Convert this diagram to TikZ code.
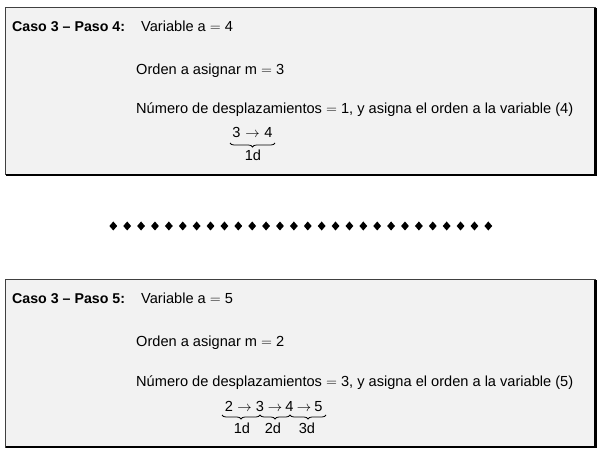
\documentclass[tikz,border=0pt]{standalone}
\usepackage{fontspec}
\setmainfont{Liberation Sans}
\usetikzlibrary{decorations.pathreplacing}
\begin{document}
\begin{tikzpicture}[x=1pt,y=-1pt,
  txt/.style={anchor=base west, inner sep=0pt, font=\fontsize{14.6}{17}\selectfont},
  ttl/.style={anchor=base west, inner sep=0pt, font=\fontsize{14.2}{17}\selectfont\bfseries},
  dig/.style={anchor=base, inner sep=0pt, font=\fontsize{14.6}{17}\selectfont},
  brc/.style={decorate, decoration={brace, amplitude=4pt, mirror}, line width=0.8pt},
  panel/.style={fill=black!5, draw=black!75, line width=1pt},
  shadowline/.style={line width=2.6pt, draw=black, line join=miter},
  gem/.style={fill=black}]
\useasboundingbox (0,0) rectangle (603,457);

% ---------- top panel ----------
\path[panel] (5.5,8) rectangle (595.5,175);
\draw[shadowline] (595.5,8) -- (595.5,175) -- (5.5,175);
\node[ttl] (t1) at (12,32) {Caso 3 – Paso 4:};
\node[txt] (v1) at (141,32) {Variable a $=$ 4};
\node[txt] (o1) at (136,75) {Orden a asignar m $=$ 3};
\node[txt] (n1) at (136,114) {Número de desplazamientos $=$ 1, y asigna el orden a la variable (4)};
\node[dig] (a3) at (236.5,138) {3};
\node[dig] (ar1) at (252.5,138) {$\rightarrow$};
\node[dig] (a4) at (268.5,138) {4};
\coordinate (q0) at (230,143);
\coordinate (q1) at (275,143);
\draw[brc] (q0) -- (q1);
\node[dig] (l1) at (253,161) {1d};

% ---------- separator ----------
\foreach \i in {0,...,27}
  \fill[gem] ({113.3+13.89*\i},221.5) -- ++(3.9,4.5) -- ++(-3.9,4.5) -- ++(-3.9,-4.5) -- cycle;

% ---------- bottom panel ----------
\path[panel] (5.5,280) rectangle (595.5,447);
\draw[shadowline] (595.5,280) -- (595.5,447) -- (5.5,447);
\node[ttl] (t2) at (12,304) {Caso 3 – Paso 5:};
\node[txt] (v2) at (141,304) {Variable a $=$ 5};
\node[txt] (o2) at (136,347) {Orden a asignar m $=$ 2};
\node[txt] (n2) at (136,386) {Número de desplazamientos $=$ 3, y asigna el orden a la variable (5)};
\node[dig] (b2) at (229,411) {2};
\node[dig] (r1) at (244.5,411) {$\rightarrow$};
\node[dig] (b3) at (260,411) {3};
\node[dig] (r2) at (275,411) {$\rightarrow$};
\node[dig] (b4) at (289.5,411) {4};
\node[dig] (r3) at (304,411) {$\rightarrow$};
\node[dig] (b5) at (318.5,411) {5};
\coordinate (p0) at (222,415);
\coordinate (p1) at (260,415);
\coordinate (p2) at (290,415);
\coordinate (p3) at (326,415);
\draw[brc] (p0) -- (p1);
\draw[brc] (p1) -- (p2);
\draw[brc] (p2) -- (p3);
\node[dig] (d1) at (242,433) {1d};
\node[dig] (d2) at (273,433) {2d};
\node[dig] (d3) at (307,433) {3d};
\end{tikzpicture}
\end{document}
